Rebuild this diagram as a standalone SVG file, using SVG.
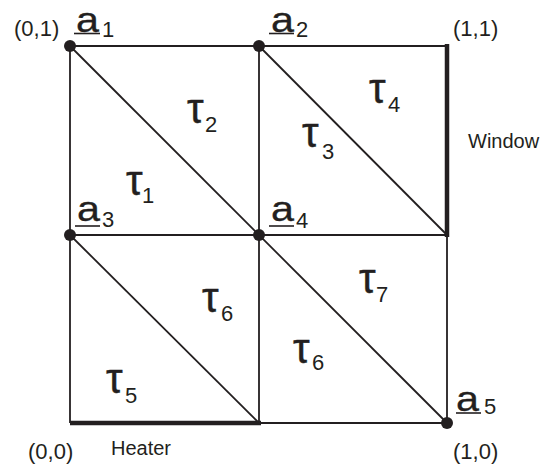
<svg xmlns="http://www.w3.org/2000/svg" width="541" height="469" viewBox="0 0 541 469">
<style>
.ln{stroke:#231f20;stroke-width:1.8;fill:none;stroke-linecap:butt}
.thick{stroke:#231f20;stroke-width:4.5;fill:none}
.dot{fill:#231f20}
text{font-family:"Liberation Sans",Arial,sans-serif;fill:#231f20}
.crd{font-size:22px}
.lbl{font-size:20px}
.a{font-size:35px;stroke:#231f20;stroke-width:0.3}
.tau{font-size:42px;stroke:#231f20;stroke-width:0.4}
.sub{font-size:22px}
.ul{stroke:#231f20;stroke-width:1.6}
</style>
<rect width="541" height="469" fill="#fff"/>
<g id="connectors">
<line class="ln" x1="70" y1="46" x2="447" y2="46"/>
<line class="ln" x1="70" y1="235" x2="447" y2="235"/>
<line class="ln" x1="70" y1="423" x2="447" y2="423"/>
<line class="ln" x1="70" y1="46" x2="70" y2="423"/>
<line class="ln" x1="259" y1="46" x2="259" y2="423"/>
<line class="ln" x1="447" y1="46" x2="447" y2="423"/>
<line class="ln" x1="70" y1="46" x2="447" y2="423"/>
<line class="ln" x1="259" y1="46" x2="447" y2="235"/>
<line class="ln" x1="70" y1="235" x2="259" y2="423"/>
<line class="thick" x1="447" y1="44" x2="447" y2="237"/>
<line class="thick" x1="70" y1="423" x2="261" y2="423"/>
</g>
<g id="a1"><circle class="dot" cx="70" cy="46" r="6"/><text class="a" transform="translate(76,32) scale(1.18,1)">a</text><line class="ul" x1="74" y1="33.5" x2="100" y2="33.5"/><text class="sub" x="102" y="37">1</text></g>
<g id="a2"><circle class="dot" cx="259" cy="46" r="6"/><text class="a" transform="translate(271,32) scale(1.18,1)">a</text><line class="ul" x1="269" y1="33.5" x2="294" y2="33.5"/><text class="sub" x="296" y="37">2</text></g>
<g id="a3"><circle class="dot" cx="70" cy="235" r="6"/><text class="a" transform="translate(77,221) scale(1.18,1)">a</text><line class="ul" x1="75" y1="226" x2="100" y2="226"/><text class="sub" x="102" y="227">3</text></g>
<g id="a4"><circle class="dot" cx="259" cy="235" r="6"/><text class="a" transform="translate(271,221) scale(1.18,1)">a</text><line class="ul" x1="269" y1="226" x2="294" y2="226"/><text class="sub" x="296" y="228">4</text></g>
<g id="a5"><circle class="dot" cx="447" cy="423" r="6"/><text class="a" transform="translate(456,411) scale(1.18,1)">a</text><line class="ul" x1="456" y1="413" x2="481" y2="413"/><text class="sub" x="484" y="414">5</text></g>
<g id="corners">
<text class="crd" x="14" y="36">(0,1)</text>
<text class="crd" x="453" y="36">(1,1)</text>
<text class="crd" x="28" y="459">(0,0)</text>
<text class="crd" x="453" y="459">(1,0)</text>
</g>
<g id="window"><text class="lbl" x="468" y="148">Window</text></g>
<g id="heater"><text class="lbl" x="111" y="455">Heater</text></g>
<g id="t1"><text class="tau" x="126" y="195">τ</text><text class="sub" x="142" y="203">1</text></g>
<g id="t2"><text class="tau" x="187" y="123">τ</text><text class="sub" x="205" y="132">2</text></g>
<g id="t3"><text class="tau" x="302" y="147">τ</text><text class="sub" x="322" y="159">3</text></g>
<g id="t4"><text class="tau" x="369" y="103">τ</text><text class="sub" x="388" y="112">4</text></g>
<g id="t5"><text class="tau" x="106" y="393">τ</text><text class="sub" x="125" y="403">5</text></g>
<g id="t6a"><text class="tau" x="202" y="312">τ</text><text class="sub" x="221" y="321">6</text></g>
<g id="t6b"><text class="tau" x="293" y="363">τ</text><text class="sub" x="312" y="370">6</text></g>
<g id="t7"><text class="tau" x="359" y="293">τ</text><text class="sub" x="376" y="302">7</text></g>
</svg>
